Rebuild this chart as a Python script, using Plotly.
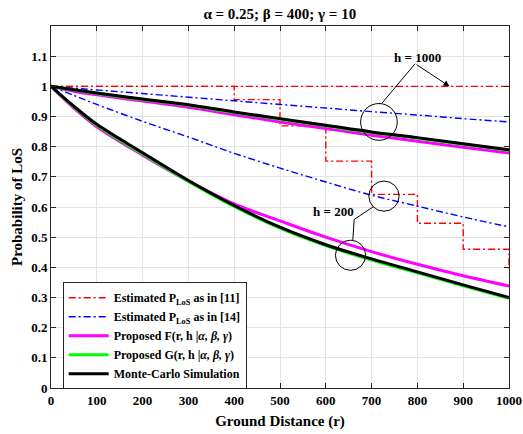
import plotly.graph_objects as go

# ---------------- data ----------------
r = [0, 50, 100, 200, 300, 400, 500, 600, 700, 800, 900, 1000]

# Estimated P_LoS as in [11] (step functions)
ref11_h1000_x = [0, 1000]
ref11_h1000_y = [1.0, 1.0]
ref11_h200_x = [0, 400, 500, 600, 700, 800, 900, 1000]
ref11_h200_y = [1.0, 0.956, 0.869, 0.752, 0.642, 0.546, 0.460, 0.394]

# Estimated P_LoS as in [14]
ref14_h1000 = [1.0, 0.994, 0.988, 0.976, 0.964, 0.952, 0.940, 0.928, 0.916, 0.905, 0.893, 0.882]
ref14_h200 = [1.0, 0.970, 0.940, 0.884, 0.832, 0.778, 0.729, 0.683, 0.639, 0.603, 0.567, 0.534]

# Proposed F(r, h | alpha, beta, gamma)
F_h1000 = [1.0, 0.984, 0.972, 0.951, 0.931, 0.906, 0.882, 0.860, 0.838, 0.818, 0.798, 0.779]
F_h200 = [1.0, 0.928, 0.866, 0.772, 0.686, 0.610, 0.554, 0.500, 0.452, 0.410, 0.372, 0.338]

# Proposed G(r, h | alpha, beta, gamma)
G_h1000 = [1.0, 0.988, 0.976, 0.956, 0.937, 0.913, 0.891, 0.869, 0.847, 0.828, 0.808, 0.788]
G_h200 = [1.0, 0.932, 0.871, 0.776, 0.685, 0.602, 0.530, 0.472, 0.424, 0.382, 0.339, 0.297]

# Monte-Carlo simulation
MC_h1000 = [1.0, 0.989, 0.978, 0.958, 0.939, 0.915, 0.893, 0.871, 0.849, 0.830, 0.810, 0.790]
MC_h200 = [1.0, 0.934, 0.874, 0.780, 0.688, 0.605, 0.533, 0.475, 0.428, 0.385, 0.342, 0.300]

x_ticks = [0, 100, 200, 300, 400, 500, 600, 700, 800, 900, 1000]
y_ticks = [0, 0.1, 0.2, 0.3, 0.4, 0.5, 0.6, 0.7, 0.8, 0.9, 1.0, 1.1]
y_ticklabels = ["0", "0.1", "0.2", "0.3", "0.4", "0.5", "0.6", "0.7", "0.8", "0.9", "1", "1.1"]

legend_names = [
    "<b>Estimated P<sub>LoS</sub> as in [11]</b>",
    "<b>Estimated P<sub>LoS</sub> as in [14]</b>",
    "<b>Proposed F(r, h |<i>α, β, γ</i>)</b>",
    "<b>Proposed G(r, h |<i>α, β, γ</i>)</b>",
    "<b>Monte-Carlo Simulation</b>",
]

# ---------------- figure ----------------
FONT = "Liberation Serif, Times New Roman, serif"
DASHDOT = "7px,3px,2px,3px"

fig = go.Figure()

def add(x, y, color, width, dash, shape, idx, show):
    fig.add_trace(go.Scatter(x=x, y=y, mode="lines",
                             line=dict(color=color, width=width, dash=dash, shape=shape),
                             name=legend_names[idx], legendgroup=str(idx), showlegend=show))

add(ref11_h1000_x, ref11_h1000_y, "#ff0000", 1.4, DASHDOT, "hv", 0, True)
add(ref11_h200_x, ref11_h200_y, "#ff0000", 1.4, DASHDOT, "hv", 0, False)
add(r, ref14_h1000, "#0000ff", 1.4, DASHDOT, "spline", 1, True)
add(r, ref14_h200, "#0000ff", 1.4, DASHDOT, "spline", 1, False)
add(r, F_h1000, "#ff00ff", 3, "solid", "spline", 2, True)
add(r, F_h200, "#ff00ff", 3, "solid", "spline", 2, False)
add(r, G_h1000, "#00ff00", 3, "solid", "spline", 3, True)
add(r, G_h200, "#00ff00", 3, "solid", "spline", 3, False)
add(r, MC_h1000, "#000000", 3, "solid", "spline", 4, True)
add(r, MC_h200, "#000000", 3, "solid", "spline", 4, False)

# ---------------- annotation shapes ----------------
def circle(cx, cy, rx, ry):
    return dict(type="circle", xref="x", yref="y", x0=cx - rx, x1=cx + rx,
                y0=cy - ry, y1=cy + ry, line=dict(color="#000000", width=1))

shapes = [
    circle(716, 0.882, 40, 0.061),   # h = 1000 circle
    circle(727, 0.636, 33, 0.050),   # h = 200 upper circle
    circle(654, 0.440, 33, 0.050),   # h = 200 lower circle
    dict(type="line", xref="x", yref="y", x0=795, y0=1.075, x1=722, y1=0.943,
         line=dict(color="#000000", width=1)),
    dict(type="path", xref="x", yref="y",
         path="M 704,0.601 L 662,0.559 L 659,0.490",
         line=dict(color="#000000", width=1)),
]

annotations = [
    dict(x=801, y=1.097, xref="x", yref="y", text="<b>h = 1000</b>", showarrow=False,
         font=dict(family=FONT, size=13, color="#000000")),
    dict(x=870, y=1.0, ax=795, ay=1.075, xref="x", yref="y", axref="x", ayref="y",
         text="", showarrow=True, arrowhead=2, arrowsize=1.2, arrowwidth=1,
         arrowcolor="#000000"),
    dict(x=616, y=0.584, xref="x", yref="y", text="<b>h = 200</b>", showarrow=False,
         font=dict(family=FONT, size=13, color="#000000")),
]

axis_common = dict(
    showgrid=True, gridcolor="#e3e3e3", gridwidth=1,
    showline=True, linecolor="#262626", linewidth=1, mirror="ticks",
    ticks="inside", ticklen=5, tickcolor="#262626", zeroline=False,
    automargin=False,
    tickfont=dict(family=FONT, size=13, color="#000000"),
)

fig.update_layout(
    width=523, height=434,
    margin=dict(l=51, r=14, t=26, b=46, autoexpand=False),
    paper_bgcolor="white", plot_bgcolor="white",
    title=dict(text="<b>α = 0.25; β = 400; γ = 10</b>", x=0.535, xanchor="center",
               y=0.968, yanchor="middle", automargin=False,
               font=dict(family=FONT, size=15, color="#000000")),
    xaxis=dict(range=[0, 1000], tickvals=x_ticks, ticktext=[f"<b>{v}</b>" for v in x_ticks],
               title=dict(text="<b>Ground Distance (r)</b>", standoff=8,
                          font=dict(family=FONT, size=15, color="#000000")),
               **axis_common),
    yaxis=dict(range=[0, 1.2], tickvals=y_ticks, ticktext=[f"<b>{t}</b>" for t in y_ticklabels],
               title=dict(text="<b>Probability of LoS</b>", standoff=4,
                          font=dict(family=FONT, size=15, color="#000000")),
               **axis_common),
    legend=dict(x=0.0255, y=0.292, xanchor="left", yanchor="top",
                bgcolor="white", bordercolor="#262626", borderwidth=1,
                font=dict(family=FONT, size=12, color="#000000"),
                tracegroupgap=0, itemwidth=40),
    shapes=shapes,
    annotations=annotations,
    showlegend=True,
)

fig.write_html("out.html", config={"displayModeBar": False},
               post_script="document.body.style.margin='0';")
